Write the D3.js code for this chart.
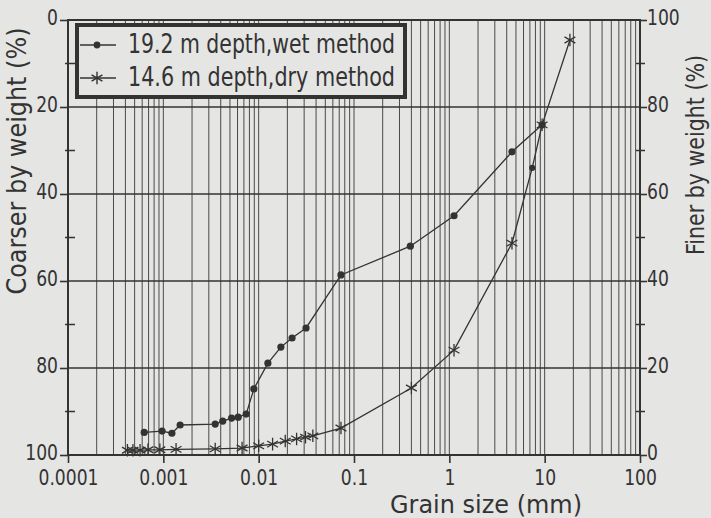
<!DOCTYPE html>
<html>
<head>
<meta charset="utf-8">
<script src="https://cdn.jsdelivr.net/npm/d3@7"></script>
<style>
    body { margin: 0; background: #e5e5e3; }
    svg { display: block; }
    text { font-family: "DejaVu Sans", sans-serif; fill: #333; }
</style>
</head>
<body>
<svg id="chart" width="711" height="518"></svg>
<script>

// 19.2 m depth, wet method
var wetSize    = [0.00063, 0.00097, 0.00123, 0.0015, 0.0035, 0.0042, 0.0052, 0.0061, 0.0074, 0.0089,
                  0.0125, 0.0171, 0.0224, 0.0314, 0.073, 0.39, 1.12, 4.54, 9.4];
var wetCoarser = [94.8, 94.5, 95.0, 93.1, 92.9, 92.2, 91.5, 91.3, 90.6, 84.8,
                  78.9, 75.2, 73.1, 70.8, 58.6, 52, 45, 30.3, 24.1];

// 14.6 m depth, dry method
var drySize    = [0.00042, 0.00048, 0.00057, 0.00069, 0.00092, 0.00136, 0.0035, 0.0067, 0.01, 0.014,
                  0.019, 0.025, 0.031, 0.037, 0.073, 0.4, 1.12, 4.54, 7.4, 9.4, 18.4];
var dryCoarser = [98.9, 98.9, 98.9, 98.8, 98.8, 98.7, 98.6, 98.4, 97.9, 97.5,
                  96.8, 96.3, 95.9, 95.6, 93.8, 84.6, 75.9, 51.3, 34, 24.1, 4.6];

var seriesNames = ["19.2 m depth,wet method", "14.6 m depth,dry method"];

var xTicks = [0.0001, 0.001, 0.01, 0.1, 1, 10, 100];
var xTickLabels = ["0.0001", "0.001", "0.01", "0.1", "1", "10", "100"];
var coarserTicks = [0, 20, 40, 60, 80, 100];
var finerTicks = [100, 80, 60, 40, 20, 0];
var minorTicks = [10, 30, 50, 70, 90];

var svg = d3.select("#chart");
var ink = "#333";
var bg = "#e5e5e3";

var plotLeft = 68, plotRight = 640, plotTop = 20, plotBottom = 455;
var sx = 0.78; // the lettering is narrow

var x = d3.scaleLog().domain([0.0001, 100]).range([plotLeft, plotRight]);
var y = d3.scaleLinear().domain([0, 100]).range([plotTop, plotBottom]);
var yFiner = d3.scaleLinear().domain([100, 0]).range([plotTop, plotBottom]);

// vertical log grid: 1..9 in every decade
var gridX = [];
for (var e = -4; e < 2; e++) {
    for (var k = 1; k < 10; k++) gridX.push(k * Math.pow(10, e));
}
gridX.push(100);

svg.append("g").selectAll("line")
    .data(gridX).enter().append("line")
    .attr("x1", function(d) { return x(d); })
    .attr("x2", function(d) { return x(d); })
    .attr("y1", plotTop).attr("y2", plotBottom)
    .attr("stroke", "#4a4a4a")
    .attr("stroke-width", 1);

svg.append("g").selectAll("line")
    .data([20, 40, 60, 80]).enter().append("line")
    .attr("x1", plotLeft).attr("x2", plotRight)
    .attr("y1", function(d) { return y(d); })
    .attr("y2", function(d) { return y(d); })
    .attr("stroke", ink)
    .attr("stroke-width", 1.6);

// frame
svg.append("rect")
    .attr("x", plotLeft).attr("y", plotTop)
    .attr("width", plotRight - plotLeft).attr("height", plotBottom - plotTop)
    .attr("fill", "none").attr("stroke", ink).attr("stroke-width", 2);

// axes
function squeeze(axisG, offset) {
    axisG.select(".domain").remove();
    axisG.selectAll(".tick line").attr("stroke", ink).attr("stroke-width", 1.6);
    axisG.selectAll("text")
        .style("font-size", "22px")
        .attr("fill", ink)
        .attr("dy", "0.2em")
        .attr("transform", "scale(" + sx + ",1)")
        .attr("x", offset / sx);
}

var gLeft = svg.append("g")
    .attr("transform", "translate(" + plotLeft + ",0)")
    .call(d3.axisLeft(y).tickValues(coarserTicks).tickSize(8).tickPadding(2));
squeeze(gLeft, -10);

var gRight = svg.append("g")
    .attr("transform", "translate(" + plotRight + ",0)")
    .call(d3.axisRight(yFiner).tickValues(finerTicks).tickSize(7).tickPadding(0));
squeeze(gRight, 7);

var gBottom = svg.append("g")
    .attr("transform", "translate(0," + plotBottom + ")")
    .call(d3.axisBottom(x).tickValues(xTicks).tickSize(8)
        .tickFormat(function(d, i) { return xTickLabels[i]; }));
gBottom.select(".domain").remove();
gBottom.selectAll(".tick line").attr("stroke", ink).attr("stroke-width", 1.6);
gBottom.selectAll("text")
    .style("font-size", "22px")
    .attr("fill", ink)
    .attr("y", 30).attr("dy", 0)
    .attr("transform", "scale(" + sx + ",1)");

// minor ticks
svg.append("g").selectAll("line")
    .data(minorTicks).enter().append("line")
    .attr("x1", plotLeft - 3).attr("x2", plotLeft + 7)
    .attr("y1", function(d) { return y(d); })
    .attr("y2", function(d) { return y(d); })
    .attr("stroke", ink).attr("stroke-width", 1.5);
svg.append("g").selectAll("line")
    .data(minorTicks).enter().append("line")
    .attr("x1", plotRight - 4).attr("x2", plotRight + 5)
    .attr("y1", function(d) { return yFiner(d); })
    .attr("y2", function(d) { return yFiner(d); })
    .attr("stroke", ink).attr("stroke-width", 1.5);

// curves
var line = d3.line()
    .x(function(d) { return x(d[0]); })
    .y(function(d) { return y(d[1]); });

var wet = d3.zip(wetSize, wetCoarser);
var dry = d3.zip(drySize, dryCoarser);

var star = d3.symbol().type(d3.symbolAsterisk).size(110);

svg.append("path").datum(dry)
    .attr("d", line)
    .attr("fill", "none").attr("stroke", ink).attr("stroke-width", 1.3);
svg.append("path").datum(wet)
    .attr("d", line)
    .attr("fill", "none").attr("stroke", ink).attr("stroke-width", 1.3);

svg.append("g").selectAll("circle")
    .data(wet).enter().append("circle")
    .attr("cx", function(d) { return x(d[0]); })
    .attr("cy", function(d) { return y(d[1]); })
    .attr("r", 3.6)
    .attr("fill", ink);

svg.append("g").selectAll("path")
    .data(dry).enter().append("path")
    .attr("transform", function(d) { return "translate(" + x(d[0]) + "," + y(d[1]) + ")"; })
    .attr("d", function(d, i) { return i === 18 ? d3.symbol().type(d3.symbolCircle).size(18)() : star(); })
    .attr("fill", ink)
    .attr("stroke", ink).attr("stroke-width", 1.3);

// legend
var legend = svg.append("g");
legend.append("rect")
    .attr("x", 77).attr("y", 25).attr("width", 328).attr("height", 72)
    .attr("fill", bg).attr("stroke", ink).attr("stroke-width", 4);

var rows = [45, 78];
rows.forEach(function(ry, i) {
    legend.append("line")
        .attr("x1", 80).attr("x2", 116).attr("y1", ry).attr("y2", ry)
        .attr("stroke", ink).attr("stroke-width", 1.5);
    if (i === 0) {
        legend.append("circle").attr("cx", 97).attr("cy", ry).attr("r", 3.4).attr("fill", ink);
    } else {
        legend.append("path").attr("transform", "translate(97," + ry + ")")
            .attr("d", star()).attr("stroke", ink).attr("stroke-width", 1.4);
    }
    legend.append("text")
        .attr("x", 128).attr("y", ry + 8)
        .attr("textLength", 267).attr("lengthAdjust", "spacingAndGlyphs")
        .style("font-size", "26px")
        .text(seriesNames[i]);
});

// titles
svg.append("text")
    .attr("transform", "translate(26,161) rotate(-90)")
    .attr("text-anchor", "middle")
    .attr("textLength", 267).attr("lengthAdjust", "spacingAndGlyphs")
    .style("font-size", "26px")
    .text("Coarser by weight (%)");

svg.append("text")
    .attr("transform", "translate(704,155) rotate(-90)")
    .attr("text-anchor", "middle")
    .attr("textLength", 200).attr("lengthAdjust", "spacingAndGlyphs")
    .style("font-size", "25px")
    .text("Finer by weight (%)");

svg.append("text")
    .attr("x", 486).attr("y", 513)
    .attr("text-anchor", "middle")
    .attr("textLength", 192).attr("lengthAdjust", "spacingAndGlyphs")
    .style("font-size", "24px")
    .text("Grain size (mm)");

</script>
</body>
</html>
